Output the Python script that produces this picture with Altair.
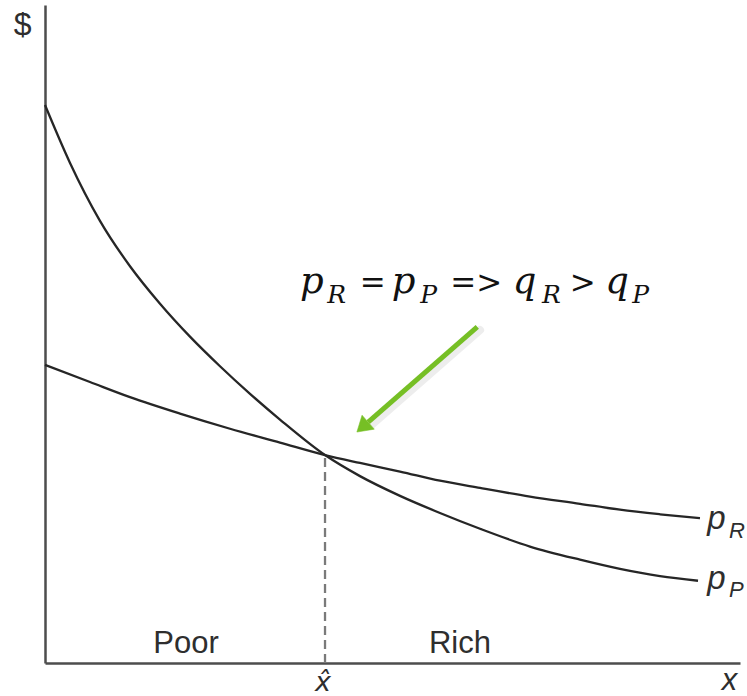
import altair as alt
import pandas as pd

# Price curves for the two groups (x: quantity, y: $), both on a 0-100 scale
pp_x = [0, 3.60, 7.91, 12.23, 16.55, 20.86, 25.18, 29.50, 33.81, 40.29, 45.32,
        51.08, 56.83, 62.59, 69.78, 76.98, 82.73, 88.49, 93.96]
pp_y = [84.8, 76.0, 67.2, 60.3, 54.6, 49.6, 45.1, 40.9, 37.0, 31.6, 28.4,
        25.4, 22.8, 20.4, 17.7, 15.7, 14.3, 13.2, 12.5]
pr_x = [0, 6.47, 12.23, 19.42, 26.62, 33.81, 40.29, 45.32, 51.08, 56.83,
        62.59, 69.78, 76.98, 82.73, 88.49, 94.24]
pr_y = [45.3, 42.7, 40.4, 37.9, 35.6, 33.5, 31.6, 30.4, 29.1, 27.7,
        26.6, 25.3, 24.2, 23.3, 22.6, 22.0]

# Crossing point x-hat
x_hat = 40.29
y_hat = 31.6

curves = pd.concat([
    pd.DataFrame({"x": pp_x, "y": pp_y, "curve": "pP"}),
    pd.DataFrame({"x": pr_x, "y": pr_y, "curve": "pR"}),
])

X = alt.Scale(domain=[0, 100], nice=False, zero=False)
Y = alt.Scale(domain=[0, 100], nice=False, zero=False)

# Bare axes: only the two domain lines
AX = alt.Axis(domain=True, domainColor="#4d4d4d", domainWidth=2.5,
              ticks=False, labels=False, grid=False, title="")

INK = "#262626"
LABEL = "#2e2e2e"
GREEN = "#76bf25"


def xy():
    return dict(x=alt.X("x:Q", scale=X, axis=AX), y=alt.Y("y:Q", scale=Y, axis=AX))


lines = alt.Chart(curves).mark_line(
    color=INK, strokeWidth=2.3, interpolate="monotone"
).encode(
    **xy(),
    detail="curve:N",
    order="x:Q",
)

# Dashed drop line from the crossing down to the x axis
drop = alt.Chart(pd.DataFrame({"x": [x_hat], "y": [0], "y2": [y_hat]})).mark_rule(
    color="#7a7a7a", strokeWidth=2.3, strokeDash=[9, 5]
).encode(**xy(), y2="y2:Q")


def text_layer(df, **mark):
    return alt.Chart(df).mark_text(**mark).encode(**xy(), text="t:N")


sans = "Liberation Sans"
serif = "DejaVu Serif"

region_labels = text_layer(
    pd.DataFrame({"x": [20.3, 59.7], "y": [1.5, 1.5], "t": ["Poor", "Rich"]}),
    font=sans, fontSize=31, color=LABEL, align="center", baseline="alphabetic",
)
dollar = text_layer(
    pd.DataFrame({"x": [-3.2], "y": [95.5], "t": ["$"]}),
    font=sans, fontSize=32, color=LABEL, align="center", baseline="alphabetic",
)
x_label = text_layer(
    pd.DataFrame({"x": [98.5], "y": [-4.1], "t": ["x"]}),
    font=sans, fontSize=31, fontStyle="italic", color=LABEL, align="center", baseline="alphabetic",
)
xhat_label = text_layer(
    pd.DataFrame({"x": [40.0], "y": [-4.3], "t": ["x̂"]}),
    font="DejaVu Sans", fontSize=27, fontStyle="italic", color=LABEL, align="center", baseline="alphabetic",
)

# Curve end labels p_R and p_P
curve_p = text_layer(
    pd.DataFrame({"x": [95.3, 95.3], "y": [20.4, 11.2], "t": ["p", "p"]}),
    font=sans, fontSize=33, fontStyle="italic", color=LABEL, align="left", baseline="alphabetic",
)
curve_sub = text_layer(
    pd.DataFrame({"x": [98.4, 98.4], "y": [19.0, 10.0], "t": ["R", "P"]}),
    font=sans, fontSize=22, fontStyle="italic", color=LABEL, align="left", baseline="alphabetic",
)

# Annotation: p_R = p_P => q_R > q_P
ann_it = text_layer(
    pd.DataFrame({"x": [36.7, 49.9, 67.3, 80.6], "y": [56.2] * 4, "t": ["p", "p", "q", "q"]}),
    font=serif, fontSize=37, fontStyle="italic", color="#111111", align="left", baseline="alphabetic",
)
ann_sub = text_layer(
    pd.DataFrame({"x": [40.6, 54.0, 71.5, 84.5], "y": [54.7] * 4, "t": ["R", "P", "R", "P"]}),
    font=serif, fontSize=25, fontStyle="italic", color="#111111", align="left", baseline="alphabetic",
)
ann_ops = text_layer(
    pd.DataFrame({"x": [45.3, 58.3, 75.5], "y": [56.2] * 3, "t": ["=", "=>", ">"]}),
    font=serif, fontSize=31, color="#111111", align="left", baseline="alphabetic",
)

# Green arrow pointing at the crossing
arrow_shadow = alt.Chart(pd.DataFrame({"x": [62.6], "y": [50.6], "x2": [46.9], "y2": [36.1]})).mark_rule(
    color="#000000", opacity=0.07, strokeWidth=8, strokeCap="round"
).encode(**xy(), x2="x2:Q", y2="y2:Q")
arrow_shaft = alt.Chart(pd.DataFrame({"x": [62.2], "y": [51.1], "x2": [46.5], "y2": [36.6]})).mark_rule(
    color=GREEN, strokeWidth=5
).encode(**xy(), x2="x2:Q", y2="y2:Q")
arrow_head = alt.Chart(pd.DataFrame({"x": [46.5], "y": [36.6]})).mark_point(
    shape="M0,-1L0.62,0L-0.62,0Z", size=900, filled=True, fill=GREEN,
    stroke=GREEN, strokeWidth=0.5, opacity=1, angle=228.8,
).encode(**xy())

chart = alt.layer(
    lines, drop, region_labels, dollar, x_label, xhat_label,
    curve_p, curve_sub, ann_it, ann_sub, ann_ops,
    arrow_shadow, arrow_shaft, arrow_head,
).properties(
    width=695, height=658,
    autosize=alt.AutoSizeParams(type="none"),
    padding={"left": 45, "top": 5, "right": 7, "bottom": 33},
    background="white",
).configure_view(stroke=None)

chart.save("out.html", embed_options={"renderer": "svg", "actions": False})
